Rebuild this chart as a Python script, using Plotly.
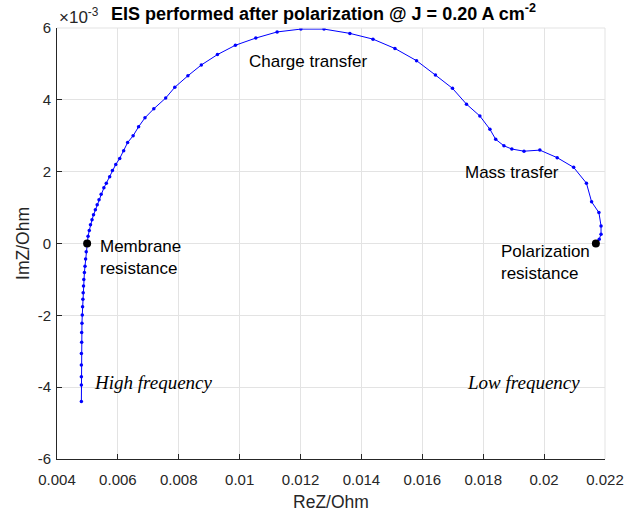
import plotly.graph_objects as go

# Nyquist data (ReZ in Ohm, ImZ in 1e-3 Ohm), high frequency -> low frequency
re_z = [0.00480, 0.00480, 0.00480, 0.00480, 0.00480, 0.00481, 0.00481, 0.00482,
        0.00483, 0.00484, 0.00485, 0.00486, 0.00487, 0.00488, 0.00490, 0.00492,
        0.00494, 0.00496, 0.00499,
        0.00502, 0.00506, 0.00510, 0.00515, 0.00520, 0.00526, 0.00532, 0.00538,
        0.00545, 0.00554, 0.00562, 0.00573, 0.00582, 0.00593, 0.00606, 0.00619,
        0.00632, 0.00650, 0.00668, 0.00689, 0.00718, 0.00757, 0.00787, 0.00830,
        0.00874, 0.00927, 0.00986, 0.01053, 0.01123, 0.01201, 0.01277, 0.01362,
        0.01438, 0.01510, 0.01581, 0.01643, 0.01699, 0.01745, 0.01789, 0.01822,
        0.01841, 0.01868, 0.01894, 0.01934, 0.01986, 0.02043, 0.02097, 0.02139,
        0.02156, 0.02180, 0.02187, 0.02187, 0.02181, 0.02170]
im_z = [-4.40, -3.94, -3.71, -3.38, -3.06, -2.75, -2.48, -2.22,
        -1.99, -1.76, -1.55, -1.37, -1.18, -1.00, -0.81, -0.63,
        -0.43, -0.23, 0.00,
        0.20, 0.36, 0.52, 0.66, 0.80, 0.94, 1.08, 1.22,
        1.37, 1.55, 1.68, 1.86, 2.03, 2.20, 2.37, 2.58,
        2.81, 3.00, 3.25, 3.50, 3.75, 4.05, 4.35, 4.67,
        4.97, 5.26, 5.52, 5.72, 5.89, 5.97, 5.97, 5.85,
        5.69, 5.43, 5.09, 4.69, 4.32, 3.88, 3.55, 3.18,
        2.90, 2.72, 2.63, 2.57, 2.60, 2.39, 2.12, 1.68,
        1.16, 0.86, 0.49, 0.26, 0.12, 0.00]

key_re = [0.00499, 0.02170]
key_im = [0.0, 0.0]

x_ticks = [0.004, 0.006, 0.008, 0.010, 0.012, 0.014, 0.016, 0.018, 0.020, 0.022]
x_tick_text = ["0.004", "0.006", "0.008", "0.01", "0.012", "0.014", "0.016", "0.018", "0.02", "0.022"]
y_ticks = [-6, -4, -2, 0, 2, 4, 6]
y_tick_text = ["-6", "-4", "-2", "0", "2", "4", "6"]

font_sans = "Arial, Liberation Sans, sans-serif"
font_serif = "Liberation Serif, DejaVu Serif, serif"
axis_col = "#262626"
grid_col = "#e3e3e3"

fig = go.Figure()
fig.add_trace(go.Scatter(
    x=re_z, y=im_z, mode="lines+markers",
    line=dict(color="rgb(0,0,255)", width=1),
    marker=dict(color="rgb(0,0,255)", size=3.5),
    showlegend=False, hoverinfo="x+y"))
fig.add_trace(go.Scatter(
    x=key_re, y=key_im, mode="markers",
    marker=dict(color="black", size=8),
    showlegend=False))

annots = [
    dict(x=0.01224, y=5.08, text="Charge transfer", xanchor="center", yanchor="middle",
         font=dict(family=font_sans, size=17, color="black")),
    dict(x=0.01894, y=1.99, text="Mass trasfer", xanchor="center", yanchor="middle",
         font=dict(family=font_sans, size=17, color="black")),
    dict(x=0.00535, y=-0.39, text="Membrane<br>resistance", xanchor="left", yanchor="middle",
         align="left", font=dict(family=font_sans, size=17, color="black")),
    dict(x=0.01851, y=-0.54, text="Polarization<br>resistance", xanchor="left", yanchor="middle",
         align="left", font=dict(family=font_sans, size=17, color="black")),
    dict(x=0.00514, y=-3.86, text="<i>High frequency</i>", xanchor="left", yanchor="middle",
         font=dict(family=font_serif, size=19, color="black")),
    dict(x=0.02124, y=-3.86, text="<i>Low frequency</i>", xanchor="right", yanchor="middle",
         font=dict(family=font_serif, size=19, color="black")),
]
for a in annots:
    a.update(xref="x", yref="y", showarrow=False)
    fig.add_annotation(**a)

fig.add_annotation(x=0.0, y=1.0, xref="paper", yref="paper", xanchor="left", yanchor="bottom",
                   text="×10<sup>-3</sup>", showarrow=False, yshift=-1,
                   font=dict(family=font_sans, size=17, color=axis_col))
fig.add_annotation(x=0.487, y=1.0, xref="paper", yref="paper", xanchor="center", yanchor="bottom",
                   text="<b>EIS performed after polarization @ J = 0.20 A cm<sup>-2</sup></b>",
                   showarrow=False, yshift=2, font=dict(family=font_sans, size=18, color="black"))

fig.update_layout(
    width=626, height=515,
    margin=dict(l=57, r=21, t=28, b=56, autoexpand=False),
    paper_bgcolor="white", plot_bgcolor="white",
    font=dict(family=font_sans, size=15, color=axis_col),
    xaxis=dict(range=[0.004, 0.022], tickvals=x_ticks, ticktext=x_tick_text,
               showgrid=True, gridcolor=grid_col, gridwidth=1,
               showline=True, linecolor=axis_col, linewidth=1,
               ticks="inside", ticklen=5, tickcolor=axis_col, zeroline=False,
               automargin=False, ticklabelstandoff=7, ticklabeloverflow="allow",
               title=dict(text="ReZ/Ohm", font=dict(size=17.5, color=axis_col), standoff=8),
               tickfont=dict(size=15, color=axis_col)),
    yaxis=dict(range=[-6, 6], tickvals=y_ticks, ticktext=y_tick_text,
               showgrid=True, gridcolor=grid_col, gridwidth=1,
               showline=True, linecolor=axis_col, linewidth=1,
               ticks="inside", ticklen=5, tickcolor=axis_col, zeroline=False,
               automargin=False, ticklabelstandoff=2, ticklabeloverflow="allow",
               title=dict(text="ImZ/Ohm", font=dict(size=17.5, color=axis_col), standoff=3),
               tickfont=dict(size=15, color=axis_col)),
)
fig.add_shape(type="line", xref="paper", yref="paper", x0=0, x1=1, y0=1, y1=1,
              line=dict(color=grid_col, width=1))
fig.add_shape(type="line", xref="paper", yref="paper", x0=1, x1=1, y0=0, y1=1,
              line=dict(color=grid_col, width=1))

# remove the browser's default 8 px body margin so the figure sits at the page origin
fig.write_html("out.html",
               config={"displayModeBar": False},
               post_script="document.body.style.margin='0';document.body.style.overflow='hidden';")
